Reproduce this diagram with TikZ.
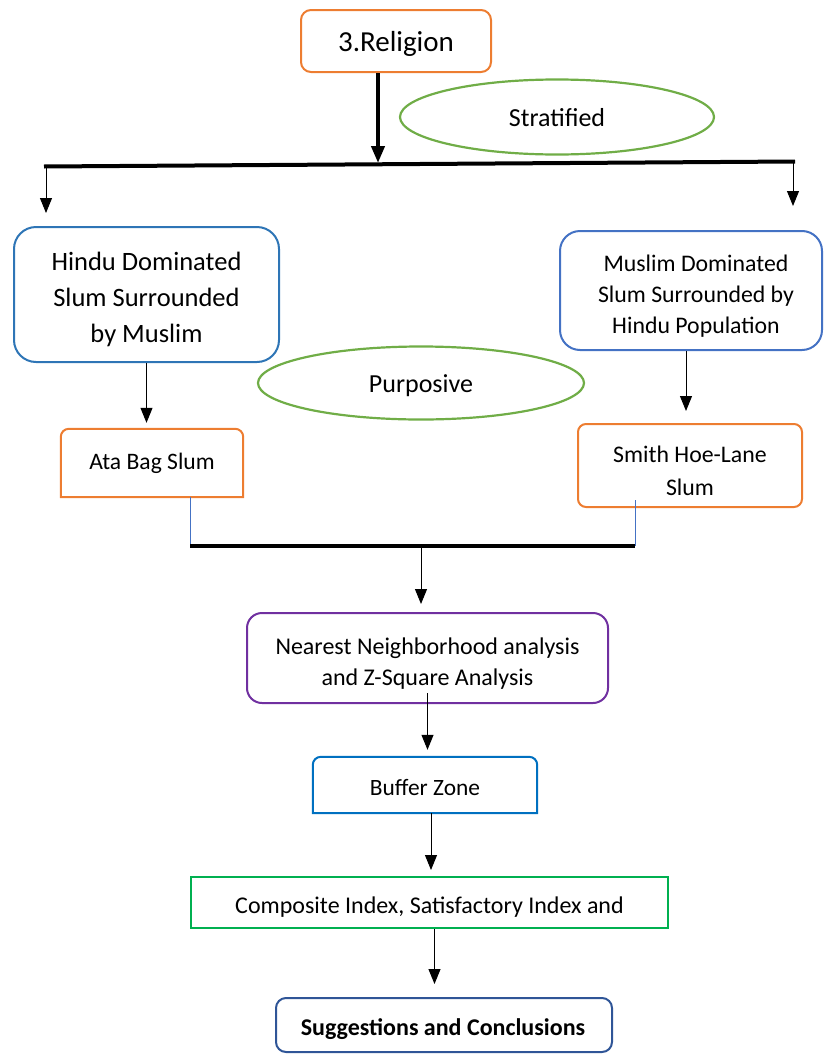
\documentclass[tikz,border=0pt]{standalone}
\usepackage{fontspec}
\setmainfont{Carlito}
\usetikzlibrary{arrows.meta,shapes.geometric}
\definecolor{boxorange}{HTML}{ED7D31}
\definecolor{hindublue}{HTML}{2E75B6}
\definecolor{muslimblue}{HTML}{4472C4}
\definecolor{ovalgreen}{HTML}{70AD47}
\definecolor{nnpurple}{HTML}{7030A0}
\definecolor{bufferblue}{HTML}{0070C0}
\definecolor{compgreen}{HTML}{00B050}
\definecolor{suggblue}{HTML}{2F5597}
\definecolor{feederblue}{HTML}{4472C4}

\begin{document}
\begin{tikzpicture}[x=1pt, y=-1pt,
	every node/.style={inner sep=0pt, align=center},
	roundbox/.style={draw, line width=2pt, rounded corners=#1},
	oval/.style={draw=ovalgreen, line width=2.2pt, ellipse},
	ovaltext/.style={font=\fontsize{26}{30}\selectfont},
	arr/.style={-{Triangle[width=12pt,length=15pt]}, line width=1pt},
	thickarr/.style={-{Triangle[width=13pt,length=17pt]}, line width=4pt},
	bus/.style={line width=4pt},
	feeder/.style={draw=feederblue, line width=0.8pt}]
	\useasboundingbox (0,0) rectangle (824,1055);

	\node[roundbox=10pt, draw=boxorange, minimum width=190pt, minimum height=62pt] (religion) at (396,41) {};
	\node[font=\fontsize{29}{34}\selectfont] (religionText) at ([yshift=-3pt]religion.center) {3.Religion};
	\node[oval, minimum width=314pt, minimum height=75pt] (strat) at (557,117) {};
	\node[ovaltext] (stratText) at ([yshift=-1pt]strat.center) {Stratified};

	\coordinate (busL) at (44,166.5);
	\coordinate (busR) at (795,161.5);
	\coordinate (busM) at (378,163);
	\coordinate (tipL) at (46,213);
	\coordinate (tipR) at (793,206);
	\draw[bus] (busL) -- (busR);
	\draw[thickarr] (religion.south -| busM) -- (busM);
	\draw[arr] (46,166.5) -- (tipL);
	\draw[arr] (793,161.5) -- (tipR);

	\node[roundbox=22pt, draw=hindublue, minimum width=265pt, minimum height=135pt] (hindu) at (146.5,294.5) {};
	\node[font=\fontsize{26.5}{36}\selectfont] (hinduText) at ([yshift=-5pt]hindu.center) {Hindu Dominated\\Slum Surrounded\\by Muslim};
	\node[roundbox=20pt, draw=muslimblue, minimum width=262pt, minimum height=119pt] (muslim) at (691,290.5) {};
	\node[font=\fontsize{23.8}{31}\selectfont] (muslimText) at ([xshift=5pt,yshift=-6pt]muslim.center) {Muslim Dominated\\Slum Surrounded by\\Hindu Population};
	\node[oval, minimum width=326pt, minimum height=73pt] (purp) at (421,383) {};
	\node[ovaltext] (purpText) at ([yshift=-3pt]purp.center) {Purposive};

	\node[minimum width=182pt, minimum height=68pt] (ata) at (152,463) {};
	\draw[boxorange, line width=2pt] (ata.south west) [rounded corners=8pt] -- (ata.north west) -- (ata.north east) [sharp corners] -- (ata.south east) -- cycle;
	\node[font=\fontsize{23.6}{30}\selectfont] (ataText) at (ata.center) {Ata Bag Slum};
	\node[roundbox=8pt, draw=boxorange, minimum width=224pt, minimum height=83pt] (smith) at (690,465.5) {};
	\node[font=\fontsize{23.8}{33}\selectfont] (smithText) at ([yshift=-5pt]smith.center) {Smith Hoe-Lane\\Slum};

	\draw[arr, shorten >=6pt] (hindu.south) -- (hindu.south |- ata.north);
	\draw[arr, shorten >=12pt] ([xshift=-5pt]muslim.south) -- ([xshift=-5pt]muslim.south |- smith.north);

	\coordinate (busB1) at (190,546);
	\coordinate (busB2) at (635,546);
	\coordinate (busBM) at (421,546);
	\draw[feeder] (busB1 |- ata.south) -- (busB1);
	\draw[feeder] ([yshift=8pt]busB2 |- smith.south) -- (busB2);
	\draw[bus] (busB1) -- (busB2);

	\node[roundbox=15pt, draw=nnpurple, minimum width=361pt, minimum height=90pt] (nn) at (427.5,658) {};
	\node[font=\fontsize{24}{31}\selectfont] (nnText) at ([yshift=-6pt]nn.center) {Nearest Neighborhood analysis\\and Z-Square Analysis};
	\node[minimum width=224pt, minimum height=56pt] (buffer) at (425,785) {};
	\draw[bufferblue, line width=2pt] (buffer.south west) [rounded corners=8pt] -- (buffer.north west) -- (buffer.north east) [sharp corners] -- (buffer.south east) -- cycle;
	\node[font=\fontsize{23.4}{28}\selectfont] (bufferText) at ([yshift=-2pt]buffer.center) {Buffer Zone};
	\node[draw=compgreen, line width=2pt, minimum width=477pt, minimum height=51pt] (comp) at (429.5,902.5) {};
	\node[font=\fontsize{24}{28}\selectfont] (compText) at ([yshift=-5pt]comp.center) {Composite Index, Satisfactory Index and};
	\node[roundbox=10pt, draw=suggblue, minimum width=336pt, minimum height=54pt] (sugg) at (444,1025) {};
	\node[font=\bfseries\fontsize{24}{28}\selectfont] (suggText) at ([xshift=-1pt,yshift=-4pt]sugg.center) {Suggestions and Conclusions};

	\draw[arr, shorten >=8pt] (busBM) -- (busBM |- nn.north);
	\draw[arr, shorten >=7pt] ([yshift=11pt]nn.south) -- (nn.south |- buffer.north);
	\draw[arr, shorten >=6pt] ([xshift=6pt]buffer.south) -- ([xshift=6pt]buffer.south |- comp.north);
	\draw[arr, shorten >=13pt] ([xshift=5pt]comp.south) -- ([xshift=5pt]comp.south |- sugg.north);
\end{tikzpicture}
\end{document}
